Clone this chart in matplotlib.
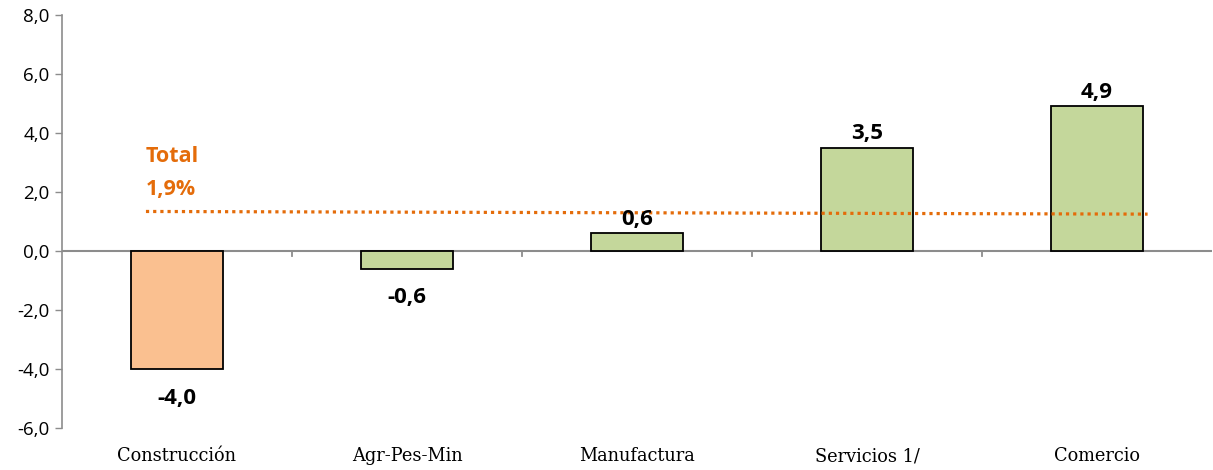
import numpy as np
import matplotlib.pyplot as plt

# sector growth (%)
categories = ['Construcción', 'Agr-Pes-Min', 'Manufactura', 'Servicios 1/', 'Comercio']
values = [-4.0, -0.6, 0.6, 3.5, 4.9]
value_labels = ['-4,0', '-0,6', '0,6', '3,5', '4,9']
bar_colors = ['#FAC090', '#C4D79B', '#C4D79B', '#C4D79B', '#C4D79B']

# total reference line (as drawn) and its label
total_line_x = [-0.135, 4.22]
total_line_y = [1.34, 1.25]
total_label = 'Total\n1,9%'

yticks = [-6, -4, -2, 0, 2, 4, 6, 8]
ytick_labels = ['-6,0', '-4,0', '-2,0', '0,0', '2,0', '4,0', '6,0', '8,0']

ORANGE = '#E46C0A'
GREY = '#8C8C8C'

fig = plt.figure(figsize=(12.13, 4.70), dpi=100)
ax = fig.add_axes([62 / 1213, 1 - 428 / 470, 1150 / 1213, 413 / 470])

x = np.arange(len(categories))
ax.bar(x, values, width=0.4, color=bar_colors, edgecolor='black', linewidth=1.3, zorder=2)

ax.plot(total_line_x, total_line_y, color=ORANGE, linewidth=2.3,
        linestyle=(0, (1, 1.25)), dash_capstyle='butt', zorder=3)
ax.text(total_line_x[0], 2.63, total_label, color=ORANGE, fontsize=15.5,
        fontweight='bold', family='Open Sans', ha='left', va='center',
        linespacing=1.75)

for xi, v, lab in zip(x, values, value_labels):
    off = 10 if v > 0 else -21
    ax.annotate(lab, (xi, v), xytext=(0, off), textcoords='offset points',
                ha='center', va='center', fontsize=16, fontweight='bold',
                family='Open Sans', zorder=4)

ax.set_xlim(-0.5, len(categories) - 0.5)
ax.set_ylim(-6, 8)
ax.set_yticks(yticks)
ax.set_yticklabels(ytick_labels, family='Open Sans', fontsize=13.5)
ax.tick_params(axis='y', length=5, color=GREY, width=1, pad=4)

# zero line with category boundary ticks
ax.axhline(0, color=GREY, linewidth=1.5, zorder=1)
for b in np.arange(0.5, len(categories) - 0.5, 1.0):
    ax.plot([b, b], [0, -0.17], color=GREY, linewidth=1.3, zorder=1)

ax.set_xticks(x)
ax.set_xticklabels(categories, family='DejaVu Serif', fontsize=12.8)
ax.tick_params(axis='x', length=0, pad=14)

for s in ['top', 'right', 'bottom']:
    ax.spines[s].set_visible(False)
ax.spines['left'].set_color(GREY)
ax.spines['left'].set_linewidth(1.2)

fig.savefig('out.png', dpi=100)
